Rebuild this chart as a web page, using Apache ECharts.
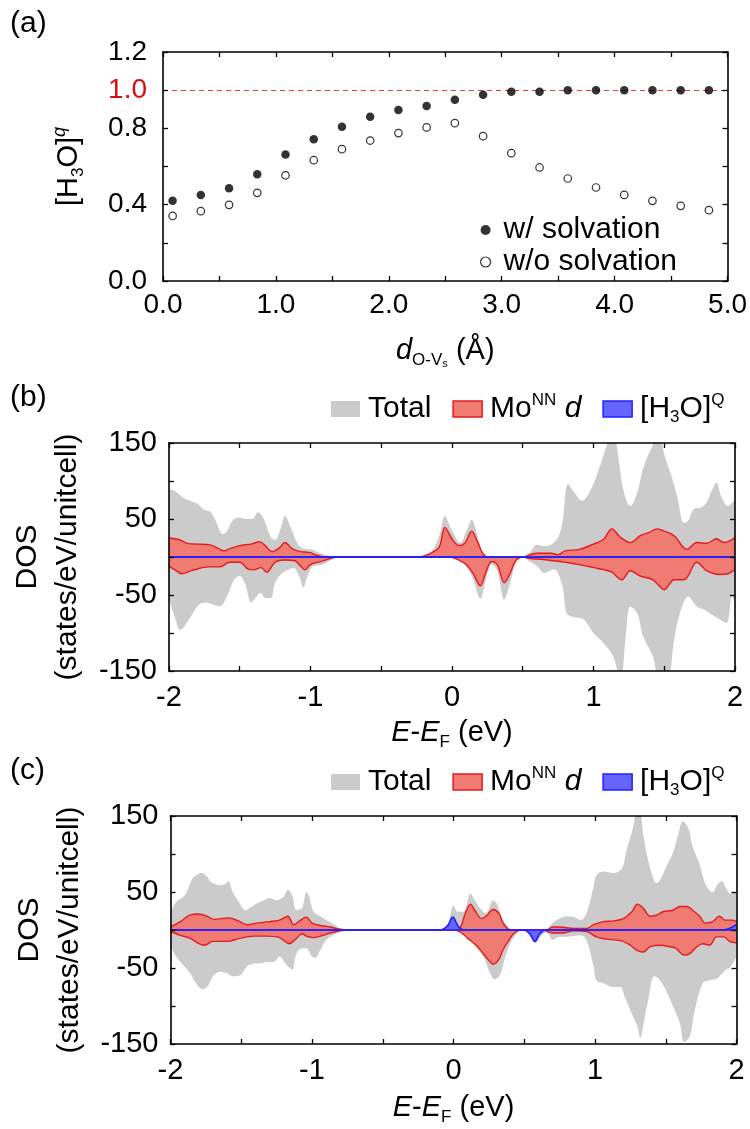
<!DOCTYPE html>
<html>
<head>
<meta charset="utf-8">
<script src="https://cdn.jsdelivr.net/npm/echarts@6/dist/echarts.min.js"></script>
<style>html,body{margin:0;padding:0;background:#fff}#c{width:750px;height:1129px}</style>
</head>
<body>
<div id="c"></div>
<script>
// ---------- Panel (a) data ----------
const dOVs = [0.085,0.335,0.585,0.835,1.085,1.335,1.585,1.835,2.085,2.335,2.585,2.835,3.085,3.335,3.585,3.835,4.085,4.335,4.585,4.835];
const withSolv = [0.42,0.451,0.486,0.56,0.663,0.743,0.808,0.861,0.896,0.917,0.95,0.976,0.992,0.992,0.999,1.0,1.0,1.0,1.0,1.0];
const withoutSolv = [0.341,0.366,0.399,0.462,0.554,0.633,0.691,0.736,0.775,0.805,0.827,0.759,0.67,0.595,0.537,0.49,0.451,0.42,0.394,0.371];
const xTickLabelsA = [0,1,2,3,4,5];
const yTickLabelsA = [0,0.4,0.8,1.0,1.2];
const refLevelA = 1.0;

// ---------- Panel (b) data: [E-EF (eV), DOS] ----------
const totalUpB = [[-2.0,89],[-1.95,86],[-1.9,78],[-1.85,74],[-1.8,70],[-1.75,62],[-1.71,60],[-1.67,48],[-1.62,30],[-1.59,34],[-1.55,48],[-1.51,52],[-1.45,50],[-1.41,50],[-1.37,59],[-1.33,50],[-1.28,26],[-1.25,22],[-1.21,38],[-1.18,54],[-1.14,39],[-1.09,17],[-1.05,11],[-0.99,10],[-0.94,6],[-0.88,2],[-0.82,0],
[-0.24,0],[-0.15,6],[-0.09,28],[-0.05,54],[0.0,35],[0.06,19],[0.1,33],[0.14,49],[0.18,28],[0.22,5],[0.26,0],
[0.5,0],[0.55,6],[0.6,16],[0.65,14],[0.7,16],[0.75,26],[0.78,45],[0.82,96],[0.86,86],[0.92,74],[0.98,88],[1.05,122],[1.1,150],[1.14,165],[1.17,140],[1.21,89],[1.26,67],[1.31,85],[1.35,116],[1.42,148],[1.46,165],[1.5,135],[1.55,107],[1.59,81],[1.64,45],[1.67,48],[1.71,63],[1.76,65],[1.8,72],[1.84,89],[1.87,98],[1.9,81],[1.95,67],[2.0,76]];
const totalDownB = [[-2.0,-55],[-1.96,-78],[-1.92,-96],[-1.89,-91],[-1.85,-80],[-1.8,-65],[-1.75,-60],[-1.68,-63],[-1.64,-65],[-1.59,-52],[-1.54,-30],[-1.5,-25],[-1.46,-36],[-1.42,-60],[-1.39,-54],[-1.35,-47],[-1.32,-54],[-1.28,-54],[-1.25,-34],[-1.2,-21],[-1.15,-16],[-1.12,-14],[-1.08,-25],[-1.05,-40],[-1.02,-25],[-0.98,-12],[-0.93,-11],[-0.88,-7],[-0.84,-2],[-0.8,0],
[-0.05,0],[0.05,-5],[0.1,-12],[0.15,-30],[0.2,-55],[0.24,-30],[0.28,-10],[0.32,-18],[0.37,-56],[0.41,-35],[0.45,-8],[0.5,0],
[0.55,-6],[0.6,-12],[0.65,-21],[0.72,-16],[0.78,-38],[0.81,-74],[0.86,-79],[0.93,-82],[1.0,-100],[1.07,-113],[1.14,-131],[1.19,-165],[1.23,-100],[1.26,-65],[1.31,-74],[1.35,-104],[1.42,-131],[1.47,-165],[1.52,-165],[1.57,-109],[1.61,-74],[1.67,-52],[1.73,-65],[1.78,-69],[1.82,-74],[1.89,-82],[1.94,-87],[1.98,-52],[2.0,-60]];
const moUpB = [[-2.0,25],[-1.93,23],[-1.87,18],[-1.8,17],[-1.71,16],[-1.66,12],[-1.61,8],[-1.57,11],[-1.5,15],[-1.42,17],[-1.36,20],[-1.32,15],[-1.27,7],[-1.22,12],[-1.18,19],[-1.13,11],[-1.07,7],[-1.01,6],[-0.95,2],[-0.88,0],
[-0.24,0],[-0.15,5],[-0.09,13],[-0.05,39],[0.0,24],[0.05,15],[0.09,18],[0.14,34],[0.18,20],[0.22,4],[0.26,0],
[0.5,0],[0.55,3],[0.6,5],[0.7,5],[0.75,3],[0.8,8],[0.9,10],[1.0,17],[1.07,23],[1.13,37],[1.19,26],[1.26,19],[1.33,28],[1.39,32],[1.45,37],[1.5,34],[1.57,28],[1.66,10],[1.73,19],[1.8,18],[1.87,24],[1.92,19],[1.98,23],[2.0,26]];
const moDownB = [[-2.0,-12],[-1.95,-18],[-1.91,-22],[-1.84,-18],[-1.72,-13],[-1.64,-13],[-1.57,-7],[-1.5,-7],[-1.44,-16],[-1.4,-17],[-1.35,-14],[-1.31,-20],[-1.25,-7],[-1.18,-4],[-1.11,-5],[-1.07,-12],[-1.04,-17],[-1.0,-10],[-0.95,-7],[-0.91,-5],[-0.86,-2],[-0.8,0],
[-0.02,0],[0.05,-4],[0.1,-10],[0.15,-22],[0.2,-38],[0.24,-20],[0.28,-6],[0.32,-10],[0.37,-34],[0.41,-22],[0.45,-5],[0.5,0],
[0.55,-2],[0.63,-3],[0.72,-5],[0.8,-7],[0.9,-10],[1.0,-14],[1.08,-17],[1.13,-20],[1.2,-30],[1.26,-18],[1.33,-25],[1.42,-30],[1.5,-43],[1.57,-30],[1.64,-30],[1.73,-7],[1.8,-18],[1.89,-23],[1.95,-22],[2.0,-16]];
const h3oUpB = [[-2.0,0],[2.0,0]];
const h3oDownB = [[-2.0,0],[2.0,0]];

// ---------- Panel (c) data ----------
const totalUpC = [[-2.0,24],[-1.96,37],[-1.92,42],[-1.89,48],[-1.85,66],[-1.82,72],[-1.78,75],[-1.74,70],[-1.72,64],[-1.69,61],[-1.65,59],[-1.61,61],[-1.59,64],[-1.56,50],[-1.51,35],[-1.47,26],[-1.44,29],[-1.39,35],[-1.34,39],[-1.3,42],[-1.25,39],[-1.2,44],[-1.17,53],[-1.14,46],[-1.11,26],[-1.07,29],[-1.04,50],[-1.02,44],[-0.99,24],[-0.94,18],[-0.9,13],[-0.85,8],[-0.8,2],[-0.75,0],
[-0.09,0],[-0.04,9],[0.0,32],[0.03,24],[0.07,24],[0.12,48],[0.15,39],[0.2,26],[0.23,22],[0.28,39],[0.31,33],[0.35,13],[0.4,2],[0.43,0],
[0.64,0],[0.7,9],[0.75,15],[0.8,18],[0.85,17],[0.9,13],[0.94,22],[0.99,57],[1.01,72],[1.06,77],[1.13,75],[1.19,81],[1.22,103],[1.27,136],[1.3,165],[1.32,160],[1.34,127],[1.38,88],[1.42,64],[1.44,62],[1.46,66],[1.51,86],[1.55,101],[1.59,127],[1.62,143],[1.66,134],[1.69,110],[1.74,86],[1.78,61],[1.83,50],[1.87,61],[1.9,64],[1.92,57],[1.96,48],[2.0,50]];
const totalDownC = [[-2.0,-20],[-1.96,-35],[-1.91,-46],[-1.86,-57],[-1.82,-70],[-1.77,-78],[-1.73,-72],[-1.7,-61],[-1.65,-55],[-1.6,-57],[-1.56,-61],[-1.51,-60],[-1.46,-48],[-1.41,-44],[-1.37,-44],[-1.32,-42],[-1.27,-42],[-1.23,-35],[-1.18,-46],[-1.14,-52],[-1.11,-31],[-1.07,-24],[-1.04,-24],[-1.0,-35],[-0.98,-37],[-0.94,-26],[-0.9,-13],[-0.85,-7],[-0.8,-2],[-0.76,0],
[0.0,0],[0.05,-4],[0.1,-10],[0.14,-18],[0.21,-35],[0.25,-53],[0.29,-65],[0.33,-59],[0.36,-39],[0.4,-18],[0.45,-4],[0.49,-1],
[0.52,-4],[0.55,-12],[0.58,-17],[0.62,-8],[0.66,-3],[0.7,-13],[0.75,-9],[0.8,-9],[0.9,-7],[0.94,-13],[0.99,-48],[1.01,-66],[1.06,-70],[1.13,-75],[1.18,-75],[1.21,-88],[1.26,-110],[1.3,-127],[1.32,-142],[1.34,-127],[1.38,-88],[1.42,-61],[1.46,-66],[1.51,-83],[1.55,-100],[1.6,-123],[1.63,-147],[1.67,-140],[1.7,-110],[1.76,-70],[1.81,-66],[1.86,-64],[1.9,-57],[1.92,-53],[1.96,-48],[2.0,-35]];
const moUpC = [[-2.0,4],[-1.93,11],[-1.86,20],[-1.8,21],[-1.74,18],[-1.69,14],[-1.59,16],[-1.51,11],[-1.46,7],[-1.39,9],[-1.3,11],[-1.23,13],[-1.17,18],[-1.13,7],[-1.08,13],[-1.04,17],[-1.0,9],[-0.94,6],[-0.87,4],[-0.8,1],[-0.75,0],
[0.01,0],[0.05,4],[0.08,20],[0.12,34],[0.15,26],[0.2,15],[0.23,18],[0.28,27],[0.32,22],[0.35,9],[0.38,2],[0.4,0],
[0.66,0],[0.7,4],[0.75,4],[0.85,2],[0.94,2],[0.99,7],[1.06,11],[1.13,12],[1.2,15],[1.26,24],[1.3,34],[1.34,29],[1.39,18],[1.44,20],[1.48,24],[1.55,26],[1.6,31],[1.65,31],[1.69,26],[1.74,18],[1.78,9],[1.83,11],[1.88,18],[1.92,13],[1.97,13],[2.0,11]];
const moDownC = [[-2.0,-2],[-1.93,-7],[-1.86,-11],[-1.8,-18],[-1.76,-20],[-1.7,-15],[-1.6,-15],[-1.51,-11],[-1.41,-8],[-1.32,-8],[-1.23,-10],[-1.16,-18],[-1.11,-11],[-1.07,-5],[-1.04,-8],[-0.99,-10],[-0.94,-8],[-0.87,-4],[-0.8,-1],[-0.75,0],
[0.01,0],[0.06,-4],[0.1,-11],[0.16,-20],[0.21,-31],[0.26,-42],[0.28,-45],[0.32,-39],[0.35,-26],[0.4,-11],[0.43,-4],[0.47,0],
[0.64,0],[0.66,-2],[0.7,-4],[0.77,-4],[0.85,-1],[0.94,-2],[1.01,-9],[1.08,-12],[1.18,-14],[1.25,-20],[1.29,-26],[1.34,-29],[1.39,-22],[1.46,-20],[1.53,-22],[1.57,-24],[1.63,-33],[1.67,-31],[1.72,-22],[1.76,-18],[1.81,-20],[1.86,-9],[1.91,-9],[1.95,-15],[2.0,-17]];
const h3oUpC = [[-2.0,0],[-0.09,0],[-0.04,6],[-0.005,17],[0.03,6],[0.07,0],[1.9,0],[1.95,2],[2.0,7]];
const h3oDownC = [[-2.0,0],[0.5,0],[0.54,-5],[0.575,-15],[0.61,-5],[0.65,0],[2.0,0]];
const xTickLabelsDOS = [-2,-1,0,1,2];
const yTickLabelsDOS = [-150,-50,50,150];

// ---------- styling ----------
const FONT = 'Liberation Sans, Arial, Helvetica, sans-serif';
const C_TOTAL = '#cbcbcb', C_MO_FILL = '#f07b73', C_MO_LINE = '#e51a1c', C_H_FILL = '#6666ff', C_H_LINE = '#1f1fff';
const has = (arr, v) => arr.some(t => Math.abs(t - v) < 1e-6);

function frameAxes(gi, min, max, interval, isX, labelFmt, labelSize, margin, name, nameGap, rich) {
  const common = {
    gridIndex: gi, type: 'value', min, max, interval,
    axisLine: { show: true, onZero: false, lineStyle: { color: '#000', width: 1.6 } },
    axisTick: { show: true, inside: true, length: 5, lineStyle: { color: '#000', width: 1.3 } },
    splitLine: { show: false }, z: 10
  };
  const main = Object.assign({}, common, {
    position: isX ? 'bottom' : 'left',
    axisLabel: { show: true, fontSize: labelSize, fontFamily: FONT, color: '#000', margin, formatter: labelFmt, rich: { r: { color: '#d40f0f', fontSize: labelSize, fontFamily: FONT } } },
    name, nameLocation: 'middle', nameGap, nameRotate: isX ? 0 : 90,
    nameTextStyle: { fontSize: 30, fontFamily: FONT, color: '#000', lineHeight: 40, rich }
  });
  const mirror = Object.assign({}, common, { position: isX ? 'top' : 'right', axisLabel: { show: false } });
  return [main, mirror];
}

const richName = {
  it: { fontStyle: 'italic', fontSize: 29, fontFamily: FONT, color: '#000', lineHeight: 36 },
  n: { fontSize: 29, fontFamily: FONT, color: '#000', lineHeight: 36 },
  sub: { fontSize: 17, fontFamily: FONT, color: '#000', verticalAlign: 'bottom', lineHeight: 14 },
  ss: { fontSize: 11, fontFamily: FONT, color: '#000', verticalAlign: 'bottom', lineHeight: 7 },
  sup: { fontSize: 17, fontFamily: FONT, color: '#000', verticalAlign: 'top', lineHeight: 10 },
  supi: { fontSize: 18, fontStyle: 'italic', fontFamily: FONT, color: '#000', verticalAlign: 'top', lineHeight: 10 },
  dos: { fontSize: 30, fontFamily: FONT, color: '#000', lineHeight: 40 }
};

const fmtA_x = v => has(xTickLabelsA, v) ? v.toFixed(1) : '';
const fmtA_y = v => has(yTickLabelsA, v) ? (Math.abs(v - refLevelA) < 1e-6 ? '{r|' + v.toFixed(1) + '}' : v.toFixed(1)) : '';
const fmtD_x = v => has(xTickLabelsDOS, v) ? String(Math.round(v)) : '';
const fmtD_y = v => has(yTickLabelsDOS, v) ? String(Math.round(v)) : '';

const xName = '{it|E}{n|-}{it|E}{sub|F}{n| (eV)}';
const yNameDOS = '{dos|DOS}\n{dos|(states/eV/unitcell)}';

const [xa, xa2] = frameAxes(0, 0, 5, 0.5, true, fmtA_x, 28, 10, '{it|d}{sub|O-V}{ss|s}{n| (Å)}', 52, richName);
const [ya, ya2] = frameAxes(0, 0, 1.2, 0.2, false, fmtA_y, 28, 16, '{n|[H}{sub|3}{n|O]}{supi|q}', 76, richName);
const [xb, xb2] = frameAxes(1, -2, 2, 0.5, true, fmtD_x, 29, 12, xName, 44, richName);
const [yb, yb2] = frameAxes(1, -150, 150, 50, false, fmtD_y, 29, 12, yNameDOS, 66, richName);
const [xc, xc2] = frameAxes(2, -2, 2, 0.5, true, fmtD_x, 29, 12, xName, 46, richName);
const [yc, yc2] = frameAxes(2, -150, 150, 50, false, fmtD_y, 29, 12, yNameDOS, 66, richName);

function area(name, data, idx, fill, line, lw, z) {
  return {
    type: 'line', name, xAxisIndex: idx, yAxisIndex: idx, data,
    smooth: 0.35, symbol: 'none', showSymbol: false, silent: true, clip: true, z,
    lineStyle: { color: line || fill, width: lw, opacity: lw > 0 ? 1 : 0 },
    itemStyle: { color: fill, borderColor: line || fill },
    areaStyle: { color: fill, opacity: 1, origin: 0 }
  };
}
function dosSeries(idx, tu, td, mu, md, hu, hd) {
  return [
    area('Total', tu, idx, C_TOTAL, null, 0, 2),
    area('Total', td, idx, C_TOTAL, null, 0, 2),
    area('Mo', mu, idx, C_MO_FILL, C_MO_LINE, 1.4, 3),
    area('Mo', md, idx, C_MO_FILL, C_MO_LINE, 1.4, 3),
    area('H3O', hu, idx, C_H_FILL, C_H_LINE, 1.6, 4),
    area('H3O', hd, idx, C_H_FILL, C_H_LINE, 1.6, 4)
  ];
}

const legendRich = {
  n: { fontSize: 30, fontFamily: FONT, color: '#000', lineHeight: 34 },
  it: { fontSize: 30, fontStyle: 'italic', fontFamily: FONT, color: '#000', lineHeight: 34 },
  sup: { fontSize: 17, fontFamily: FONT, color: '#000', verticalAlign: 'top', lineHeight: 12 },
  sub: { fontSize: 17, fontFamily: FONT, color: '#000', verticalAlign: 'bottom', lineHeight: 12 }
};
const legendLabels = { 'Total': '{n|Total}', 'Mo': '{n|Mo}{sup|NN}{n| }{it|d}', 'H3O': '{n|[H}{sub|3}{n|O]}{sup|Q}' };
function dosLegend(top) {
  return {
    left: 331, top, padding: 0, itemWidth: 29, itemHeight: 16, itemGap: 21, icon: 'rect', selectedMode: false,
    textStyle: { fontSize: 30, fontFamily: FONT, color: '#000', padding: [0, 0, 0, 3], rich: legendRich },
    formatter: n => legendLabels[n],
    data: [
      { name: 'Total', itemStyle: { color: C_TOTAL, borderWidth: 0 } },
      { name: 'Mo', itemStyle: { color: C_MO_FILL, borderColor: C_MO_LINE, borderWidth: 1.5 } },
      { name: 'H3O', itemStyle: { color: C_H_FILL, borderColor: C_H_LINE, borderWidth: 1.5 } }
    ]
  };
}

const option = {
  animation: false,
  backgroundColor: '#fff',
  grid: [
    { left: 163, top: 52, width: 566, height: 229 },
    { left: 168.5, top: 443, width: 566.5, height: 228 },
    { left: 170.5, top: 816, width: 566, height: 228 }
  ],
  xAxis: [xa, xa2, xb, xb2, xc, xc2].map((a, i) => a),
  yAxis: [ya, ya2, yb, yb2, yc, yc2],
  legend: [
    {
      left: 480, top: 215, orient: 'vertical', padding: 0, itemGap: 2, itemWidth: 10, itemHeight: 10, icon: 'circle', selectedMode: false,
      textStyle: { fontSize: 30, fontFamily: FONT, color: '#000', padding: [0, 0, 0, 8], lineHeight: 30 },
      data: [
        { name: 'w/ solvation', itemStyle: { color: '#000' } },
        { name: 'w/o solvation', itemStyle: { color: '#fff', borderColor: '#000', borderWidth: 1.2 } }
      ]
    },
    dosLegend(392),
    dosLegend(765)
  ],
  graphic: [
    { type: 'text', left: 10, top: 9, style: { text: '(a)', font: '30px ' + FONT, fill: '#000' } },
    { type: 'text', left: 10, top: 383, style: { text: '(b)', font: '30px ' + FONT, fill: '#000' } },
    { type: 'text', left: 10, top: 756, style: { text: '(c)', font: '30px ' + FONT, fill: '#000' } }
  ],
  series: [
    {
      type: 'scatter', name: 'w/ solvation', xAxisIndex: 0, yAxisIndex: 0, z: 5,
      data: dOVs.map((x, i) => [x, withSolv[i]]), symbolSize: 8.5, itemStyle: { color: '#000' },
      markLine: { silent: true, symbol: 'none', label: { show: false }, z: 3,
        lineStyle: { color: '#f03a3a', type: [5, 4], width: 1.2 }, data: [{ yAxis: refLevelA }] }
    },
    {
      type: 'scatter', name: 'w/o solvation', xAxisIndex: 0, yAxisIndex: 0, z: 5,
      data: dOVs.map((x, i) => [x, withoutSolv[i]]), symbolSize: 7.5,
      itemStyle: { color: '#fff', borderColor: '#000', borderWidth: 1.2 }
    },
    ...dosSeries(2, totalUpB, totalDownB, moUpB, moDownB, h3oUpB, h3oDownB),
    ...dosSeries(4, totalUpC, totalDownC, moUpC, moDownC, h3oUpC, h3oDownC)
  ]
};
// DOS series axis indices: grid1 uses xAxis 2 / yAxis 2, grid2 uses xAxis 4 / yAxis 4
const chart = echarts.init(document.getElementById('c'), null, { renderer: 'canvas' });
chart.setOption(option);
</script>
</body>
</html>
